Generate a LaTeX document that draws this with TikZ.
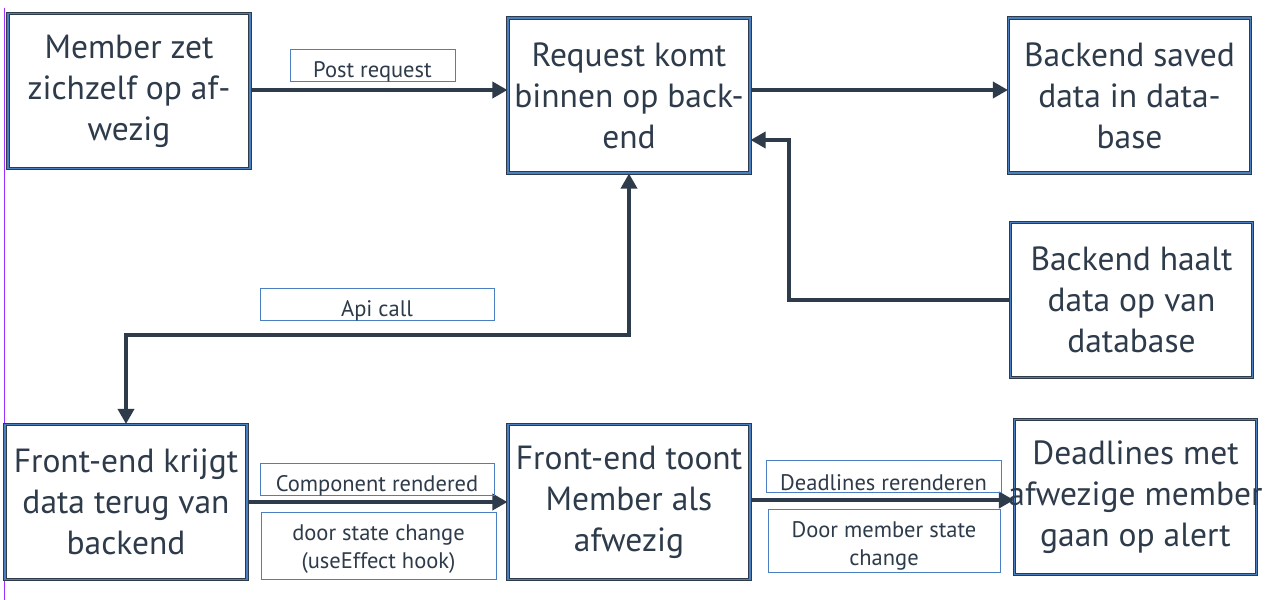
\documentclass[tikz,border=0pt]{standalone}
\usepackage{fontspec}
\setmainfont{PT Sans}
\usetikzlibrary{arrows.meta,positioning,calc}
\definecolor{dk}{HTML}{2E3B4A}
\definecolor{bl}{HTML}{4A7FC1}
\definecolor{pu}{HTML}{9B30FF}
\tikzset{
  box/.style={draw=dk, double=bl, double distance=1.1pt, line width=1.1pt, fill=white,
    minimum width=242pt, minimum height=155pt, align=center, text=dk,
    font=\fontsize{33.5}{41}\selectfont, inner sep=0pt},
  lbox/.style={draw=bl, line width=0.9pt, inner sep=0pt},
  ltext/.style={text=dk, font=\fontsize{22.5}{28}\selectfont, align=center, inner sep=0pt},
  conn/.style={draw=dk, line width=3.5pt, -{Triangle[length=15pt,width=16pt]}},
  conn2/.style={draw=dk, line width=3.5pt, {Triangle[length=15pt,width=16pt]}-{Triangle[length=15pt,width=16pt]}}
}
\begin{document}
\begin{tikzpicture}[x=1pt,y=-1pt]
\useasboundingbox (0,0) rectangle (1270,600);
\fill[white] (0,0) rectangle (1270,600);
\draw[pu, line width=1pt] (4,8) -- (4,600);

\node[box] (m) at (129,91) {Member zet\\zichzelf op af-\\wezig};
\node[box] (rq) at (629,95.5) {Request komt\\binnen op back-\\end};
\node[box] (bs) at (1129.5,95.5) {Backend saved\\data in data-\\base};
\node[box] (bh) at (1131.5,300) {Backend haalt\\data op van\\database};
\node[box] (fk) at (126,502) {Front-end krijgt\\data terug van\\backend};
\node[box] (ft) at (629,502) {Front-end toont\\Member als\\afwezig};
\node[box] (dl) at (1135.5,497) {Deadlines met\\\makebox[200pt][c]{afwezige member}\\gaan op alert};

\coordinate (c1) at (789,140);
\coordinate (c2) at (126,335);

\draw[conn] (m.east |- 0,90) -- (rq.west |- 0,90);
\draw[conn] (rq.east |- 0,90) -- (bs.west |- 0,90);
\draw[conn] (bh.west) -| (c1) -- (c1 -| rq.east);
\draw[conn2] (fk.north) -- (c2) -| (rq.south);
\draw[conn] (fk.east) -- (fk.east -| ft.west);
\draw[conn] (ft.east |- 0,500) -- (dl.west |- 0,500);

\node[lbox, minimum width=165pt, minimum height=32pt] (l1) at (372.5,65) {};
\node[ltext] (t1) at (372.5,72) {Post request};
\node[lbox, minimum width=234pt, minimum height=32pt] (l2) at (377,304) {};
\node[ltext] (t2) at (377,311) {Api call};
\node[lbox, minimum width=234pt, minimum height=32pt] (l3) at (377,479) {};
\node[ltext] (t3) at (377,486) {Component rendered};
\node[lbox, minimum width=235pt, minimum height=67pt] (l4) at (378.5,545.5) {};
\node[ltext] (t4) at (378.5,549) {door state change\\(useEffect hook)};
\node[lbox, minimum width=235pt, minimum height=32pt] (l5) at (883.5,476) {};
\node[ltext] (t5) at (883.5,483) {Deadlines rerenderen};
\node[lbox, minimum width=232pt, minimum height=63pt] (l6) at (884,540.5) {};
\node[ltext] (t6) at (884,546) {Door member state\\change};
\end{tikzpicture}
\end{document}
